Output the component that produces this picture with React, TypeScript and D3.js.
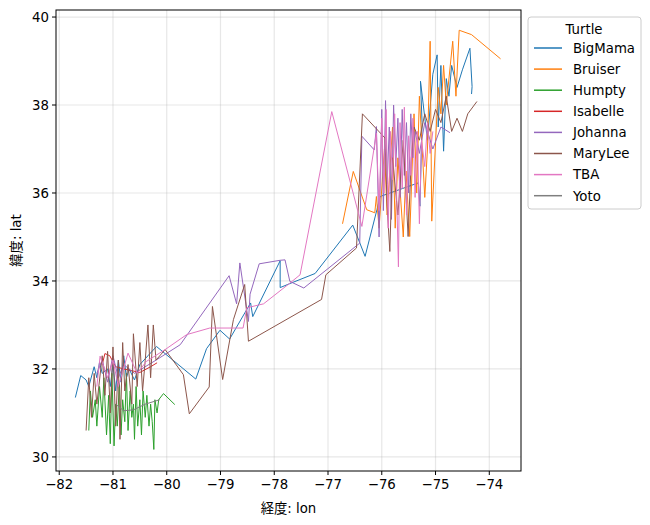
import React from 'react';
import * as d3 from 'd3';

type Pt = [number, number];

const turtles = ['BigMama', 'Bruiser', 'Humpty', 'Isabelle', 'Johanna', 'MaryLee', 'TBA', 'Yoto'];
const colors = ['#1f77b4', '#ff7f0e', '#2ca02c', '#d62728', '#9467bd', '#8c564b', '#e377c2', '#7f7f7f'];

const xTicks = [-82, -81, -80, -79, -78, -77, -76, -75, -74];
const yTicks = [30, 32, 34, 36, 38, 40];

// tracks as [lon, lat]
const bigMama: Pt[] = [
  [-81.7, 31.35], [-81.6, 31.85], [-81.5, 31.75], [-81.45, 31.6], [-81.35, 32.05], [-81.3, 31.8],
  [-81.25, 32.15], [-81.2, 31.9], [-81.1, 32.0], [-81.05, 31.6], [-81.0, 32.1], [-80.95, 31.5],
  [-80.9, 32.2], [-80.85, 31.7], [-80.8, 32.3], [-80.75, 31.8], [-80.7, 32.0], [-80.6, 31.75],
  [-80.5, 32.1], [-80.35, 32.3], [-80.19, 32.51], [-79.46, 31.77], [-79.26, 32.46], [-79.01, 32.88],
  [-78.83, 32.68], [-78.44, 33.5], [-78.4, 33.19], [-77.89, 34.46], [-77.89, 33.85], [-77.65, 33.97],
  [-77.24, 34.17], [-76.54, 35.27], [-76.31, 34.56], [-76.09, 35.62], [-76.03, 35.92], [-75.32, 36.23],
  [-75.29, 35.7], [-75.25, 37.6], [-75.28, 38.54], [-75.15, 37.2], [-75.05, 38.7], [-74.97, 39.14],
  [-74.95, 37.5], [-74.9, 38.9], [-74.85, 36.95], [-74.8, 38.6], [-74.75, 38.2], [-74.7, 38.9],
  [-74.6, 38.4], [-74.5, 38.8], [-74.36, 39.29], [-74.32, 38.42], [-74.33, 38.25],
];

const bruiser: Pt[] = [
  [-76.73, 35.3], [-76.53, 36.49], [-76.28, 35.62], [-76.13, 35.55], [-76.1, 35.92], [-76.05, 35.2],
  [-75.95, 37.0], [-75.9, 35.5], [-75.8, 37.5], [-75.75, 35.2], [-75.7, 36.8], [-75.6, 35.0],
  [-75.55, 36.5], [-75.48, 35.01], [-75.4, 37.8], [-75.35, 36.0], [-75.3, 38.2], [-75.2, 35.9],
  [-75.15, 37.0], [-75.1, 39.45], [-75.07, 35.36], [-74.95, 38.4], [-74.9, 37.8], [-74.85, 38.9],
  [-74.8, 38.0], [-74.68, 39.45], [-74.62, 38.2], [-74.56, 39.7], [-74.33, 39.6], [-73.79, 39.05],
];

const humpty: Pt[] = [
  [-81.45, 30.6], [-81.42, 31.5], [-81.38, 30.9], [-81.33, 31.3], [-81.3, 30.7], [-81.25, 31.6],
  [-81.2, 30.9], [-81.17, 31.8], [-81.12, 30.5], [-81.08, 31.4], [-81.05, 30.3], [-81.02, 31.9],
  [-80.98, 30.25], [-80.95, 31.2], [-80.92, 30.7], [-80.88, 31.7], [-80.85, 30.5], [-80.82, 31.3],
  [-80.78, 30.8], [-80.75, 31.9], [-80.72, 30.6], [-80.68, 31.5], [-80.65, 30.9], [-80.62, 31.2],
  [-80.6, 30.4], [-80.57, 31.6], [-80.54, 30.7], [-80.5, 31.3], [-80.47, 30.5], [-80.44, 31.5],
  [-80.4, 30.9], [-80.37, 31.4], [-80.33, 30.7], [-80.3, 31.2], [-80.27, 30.8], [-80.24, 30.17],
  [-80.22, 31.3], [-80.18, 31.0], [-80.15, 31.3], [-80.06, 31.44], [-79.85, 31.19],
];

const isabelle: Pt[] = [
  [-81.2, 32.1], [-81.15, 32.35], [-81.06, 32.3], [-80.95, 32.05], [-80.8, 32.0], [-80.5, 31.92],
  [-80.3, 32.05], [-80.18, 32.14],
];

const johanna: Pt[] = [
  [-81.3, 31.9], [-81.2, 32.2], [-81.1, 31.7], [-81.0, 32.3], [-80.9, 31.8], [-80.8, 32.1],
  [-80.6, 31.9], [-80.2, 32.2], [-79.75, 32.55], [-78.84, 34.12], [-78.7, 33.48], [-78.64, 34.41],
  [-78.48, 33.08], [-78.45, 33.7], [-78.28, 34.39], [-77.89, 34.47], [-77.8, 34.48], [-77.71, 33.99],
  [-77.45, 33.84], [-76.41, 34.86], [-76.37, 37.29], [-76.14, 36.98], [-76.1, 37.51], [-76.05, 35.0],
  [-76.0, 37.9], [-75.97, 35.6], [-75.93, 38.1], [-75.9, 36.2], [-75.86, 37.5], [-75.82, 35.4],
  [-75.78, 38.0], [-75.74, 36.6], [-75.7, 37.7], [-75.66, 35.9], [-75.62, 37.9], [-75.58, 36.4],
  [-75.54, 37.6], [-75.5, 36.0], [-75.46, 37.8], [-75.42, 36.8], [-75.38, 37.4], [-75.3, 36.9],
  [-75.2, 37.6], [-75.05, 37.0], [-74.9, 37.5], [-74.73, 37.37],
];

const maryLee: Pt[] = [
  [-81.5, 30.6], [-81.45, 31.8], [-81.4, 30.9], [-81.35, 31.9], [-81.3, 31.2], [-81.2, 32.3],
  [-81.15, 31.4], [-81.1, 32.4], [-81.05, 31.0], [-81.0, 32.5], [-80.95, 30.7], [-80.9, 32.2],
  [-80.87, 30.4], [-80.82, 32.6], [-80.78, 31.5], [-80.72, 32.1], [-80.65, 31.2], [-80.62, 32.8],
  [-80.55, 31.6], [-80.5, 32.6], [-80.45, 31.5], [-80.4, 32.2], [-80.35, 33.0], [-80.3, 31.8],
  [-80.25, 33.0], [-80.2, 32.2], [-80.03, 32.44], [-79.69, 31.87], [-79.58, 30.98], [-79.21, 31.59],
  [-79.15, 33.42], [-78.96, 31.76], [-78.76, 33.12], [-78.55, 33.92], [-78.48, 32.63], [-77.12, 33.58],
  [-77.04, 34.14], [-76.47, 34.75], [-76.36, 37.8], [-75.94, 37.25], [-75.9, 35.7], [-75.85, 34.67],
  [-75.8, 36.8], [-75.7, 35.5], [-75.6, 37.2], [-75.51, 35.01], [-75.45, 36.8], [-75.4, 37.5],
  [-75.3, 37.2], [-75.2, 37.8], [-75.1, 37.4], [-75.0, 37.9], [-74.9, 37.6], [-74.8, 38.2],
  [-74.7, 37.4], [-74.6, 37.7], [-74.5, 37.4], [-74.4, 37.8], [-74.23, 38.08],
];

const tba: Pt[] = [
  [-81.3, 31.6], [-81.24, 32.29], [-81.1, 31.8], [-81.0, 32.2], [-80.9, 31.6], [-80.72, 32.36],
  [-80.55, 31.9], [-80.38, 32.17], [-80.03, 32.44], [-79.63, 32.78], [-79.2, 32.93], [-78.58, 32.93],
  [-78.51, 33.39], [-78.2, 33.48], [-77.71, 33.95], [-77.52, 34.14], [-76.93, 37.85], [-76.37, 35.24],
  [-76.1, 37.36], [-76.05, 35.6], [-76.0, 37.7], [-75.96, 36.0], [-75.92, 37.9], [-75.88, 35.2],
  [-75.84, 37.4], [-75.8, 36.3], [-75.76, 37.8], [-75.72, 35.8], [-75.69, 34.32], [-75.66, 37.6],
  [-75.62, 36.1], [-75.58, 37.95], [-75.54, 35.5], [-75.5, 37.3], [-75.46, 36.4], [-75.42, 37.7],
  [-75.38, 35.9], [-75.34, 37.4], [-75.3, 35.3], [-75.26, 37.2], [-75.2, 36.6], [-75.15, 37.6],
  [-75.1, 36.9], [-75.05, 37.4],
];

const yoto: Pt[] = [
  [-80.95, 31.2], [-80.8, 31.05], [-80.62, 31.07], [-80.4, 31.2], [-80.13, 31.3],
];

const tracks: Pt[][] = [bigMama, bruiser, humpty, isabelle, johanna, maryLee, tba, yoto];

const FONT = '"DejaVu Sans", "Noto Sans CJK JP", sans-serif';

const App: React.FC = () => {
  const left = 56, right = 521, top = 10, bottom = 471;

  const x = d3.scaleLinear().domain([-82.06, -73.41]).range([left, right]);
  const y = d3.scaleLinear().domain([29.68, 40.16]).range([bottom, top]);

  const line = d3.line<Pt>()
    .x(d => x(d[0]))
    .y(d => y(d[1]));

  const legX = 528, legY = 17;

  return (
    <svg width={650} height={525} style={{ position: 'absolute', left: 0, top: 0, background: '#fff' }}
      fontFamily={FONT}>
      <defs>
        <clipPath id="plot">
          <rect x={left} y={top} width={right - left} height={bottom - top} />
        </clipPath>
      </defs>

      {/* grid */}
      {xTicks.map(t => (
        <line key={'gx' + t} x1={x(t)} x2={x(t)} y1={top} y2={bottom} stroke="#b0b0b0" strokeOpacity={0.3} strokeWidth={1.2} />
      ))}
      {yTicks.map(t => (
        <line key={'gy' + t} x1={left} x2={right} y1={y(t)} y2={y(t)} stroke="#b0b0b0" strokeOpacity={0.3} strokeWidth={1.2} />
      ))}

      {/* tracks */}
      <g clipPath="url(#plot)">
        {tracks.map((tr, i) => (
          <path key={turtles[i]} d={line(tr) || ''} fill="none" stroke={colors[i]} strokeWidth={1}
            strokeLinejoin="round" />
        ))}
      </g>

      {/* frame */}
      <rect x={left} y={top} width={right - left} height={bottom - top} fill="none" stroke="#000" strokeWidth={1} />

      {/* x axis */}
      {xTicks.map(t => (
        <g key={'xt' + t}>
          <line x1={x(t)} x2={x(t)} y1={bottom} y2={bottom + 4} stroke="#000" />
          <text x={x(t)} y={bottom + 18} textAnchor="middle" fontSize={13.3} fill="#000">
            {'\u2212' + Math.abs(t)}
          </text>
        </g>
      ))}
      <text x={(left + right) / 2} y={513} textAnchor="middle" fontSize={13.3}>経度: lon</text>

      {/* y axis */}
      {yTicks.map(t => (
        <g key={'yt' + t}>
          <line x1={left - 4} x2={left} y1={y(t)} y2={y(t)} stroke="#000" />
          <text x={left - 7} y={y(t) + 4.8} textAnchor="end" fontSize={13.3} fill="#000">{t}</text>
        </g>
      ))}
      <text transform={`translate(21,${(top + bottom) / 2}) rotate(-90)`} textAnchor="middle" fontSize={13.3}>緯度: lat</text>

      {/* legend */}
      <rect x={legX} y={legY} width={113} height={192} rx={3} fill="#fff" fillOpacity={0.8} stroke="#cccccc" />
      <text x={legX + 56} y={legY + 17} textAnchor="middle" fontSize={13.3}>Turtle</text>
      {turtles.map((name, i) => {
        const ry = legY + 31 + i * 21.1;
        return (
          <g key={'lg' + name}>
            <line x1={legX + 6} x2={legX + 34} y1={ry} y2={ry} stroke={colors[i]} strokeWidth={1.5} />
            <text x={legX + 45} y={ry + 4.8} fontSize={13.3}>{name}</text>
          </g>
        );
      })}
    </svg>
  );
};

export default App;
